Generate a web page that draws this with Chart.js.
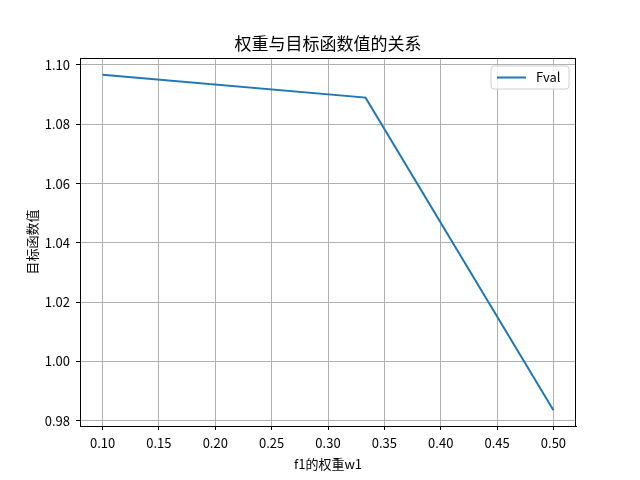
<!DOCTYPE html>
<html><head><meta charset="utf-8">
<script src="https://cdn.jsdelivr.net/npm/chart.js@4/dist/chart.umd.min.js"></script>
<style>html,body{margin:0;padding:0;background:#fff}canvas{display:block}</style>
</head><body>
<canvas id="c" width="640" height="480"></canvas>
<script>
const weights = [0.1, 1/3, 0.5];
const fval = [1.0967, 1.0890, 0.9836];
const xTicks = [0.10, 0.15, 0.20, 0.25, 0.30, 0.35, 0.40, 0.45, 0.50];
const yTicks = [0.98, 1.00, 1.02, 1.04, 1.06, 1.08, 1.10];
const titleText = '权重与目标函数值的关系';
const xLabel = 'f1的权重w1';
const yLabel = '目标函数值';
const seriesName = 'Fval';

const FONT = '"Noto Sans CJK SC", "DejaVu Sans", sans-serif';

const decor = {
  id: 'decor',
  afterDraw(chart) {
    const ctx = chart.ctx, a = chart.chartArea;
    ctx.save();
    ctx.strokeStyle = '#000'; ctx.lineWidth = 1;
    ctx.strokeRect(Math.round(a.left) + 0.5, Math.round(a.top) + 0.5, Math.round(a.right - a.left) - 1, Math.round(a.bottom - a.top));
    ctx.fillStyle = '#000';
    ctx.textAlign = 'center'; ctx.textBaseline = 'middle';
    ctx.font = '17px ' + FONT;
    ctx.fillText(titleText, (a.left + a.right) / 2, 44);
    ctx.font = '13px ' + FONT;
    ctx.fillText(xLabel, (a.left + a.right) / 2, 464);
    ctx.save();
    ctx.translate(32, (a.top + a.bottom) / 2);
    ctx.rotate(-Math.PI / 2);
    ctx.fillText(yLabel, 0, 0);
    ctx.restore();
    const lx = 491, ly = 66, lw = 78, lh = 23, r = 3;
    ctx.beginPath();
    ctx.moveTo(lx + r, ly); ctx.lineTo(lx + lw - r, ly); ctx.quadraticCurveTo(lx + lw, ly, lx + lw, ly + r);
    ctx.lineTo(lx + lw, ly + lh - r); ctx.quadraticCurveTo(lx + lw, ly + lh, lx + lw - r, ly + lh);
    ctx.lineTo(lx + r, ly + lh); ctx.quadraticCurveTo(lx, ly + lh, lx, ly + lh - r);
    ctx.lineTo(lx, ly + r); ctx.quadraticCurveTo(lx, ly, lx + r, ly);
    ctx.closePath();
    ctx.fillStyle = 'rgba(255,255,255,0.8)'; ctx.fill();
    ctx.strokeStyle = '#d0d0d0'; ctx.lineWidth = 1; ctx.stroke();
    ctx.strokeStyle = '#1f77b4'; ctx.lineWidth = 2;
    ctx.beginPath(); ctx.moveTo(497, 77.5); ctx.lineTo(526, 77.5); ctx.stroke();
    ctx.fillStyle = '#000'; ctx.textAlign = 'left';
    ctx.font = '13px ' + FONT;
    ctx.fillText(seriesName, 536, 77.5);
    ctx.restore();
  }
};

new Chart(document.getElementById('c'), {
  type: 'line',
  data: {
    datasets: [{
      label: seriesName,
      data: weights.map((w, i) => ({x: w, y: fval[i]})),
      borderColor: '#1f77b4',
      borderWidth: 2,
      pointRadius: 0,
      tension: 0,
      fill: false
    }]
  },
  options: {
    responsive: false,
    animation: false,
    devicePixelRatio: 1,
    layout: {padding: {left: 0, right: 64, top: 58, bottom: 0}},
    plugins: {legend: {display: false}, title: {display: false}, tooltip: {enabled: false}},
    scales: {
      x: {
        type: 'linear', min: 0.08, max: 0.52,
        afterBuildTicks(s) { s.ticks = xTicks.map(v => ({value: v})); },
        afterFit(s) { s.height = 54; },
        grid: {color: '#b0b0b0', lineWidth: 1, tickColor: '#000', tickLength: 4, drawTicks: true},
        border: {color: '#000', width: 1},
        ticks: {color: '#000', font: {family: FONT, size: 13}, padding: 5, maxRotation: 0, autoSkip: false,
          callback: v => Number(v).toFixed(2)}
      },
      y: {
        type: 'linear', min: 0.97826, max: 1.10236,
        afterBuildTicks(s) { s.ticks = yTicks.map(v => ({value: v})); },
        afterFit(s) { s.width = 80; },
        grid: {color: '#b0b0b0', lineWidth: 1, tickColor: '#000', tickLength: 4, drawTicks: true},
        border: {color: '#000', width: 1},
        ticks: {color: '#000', font: {family: FONT, size: 13}, padding: 6, autoSkip: false,
          callback: v => Number(v).toFixed(2)}
      }
    }
  },
  plugins: [decor]
});
</script>
</body></html>
